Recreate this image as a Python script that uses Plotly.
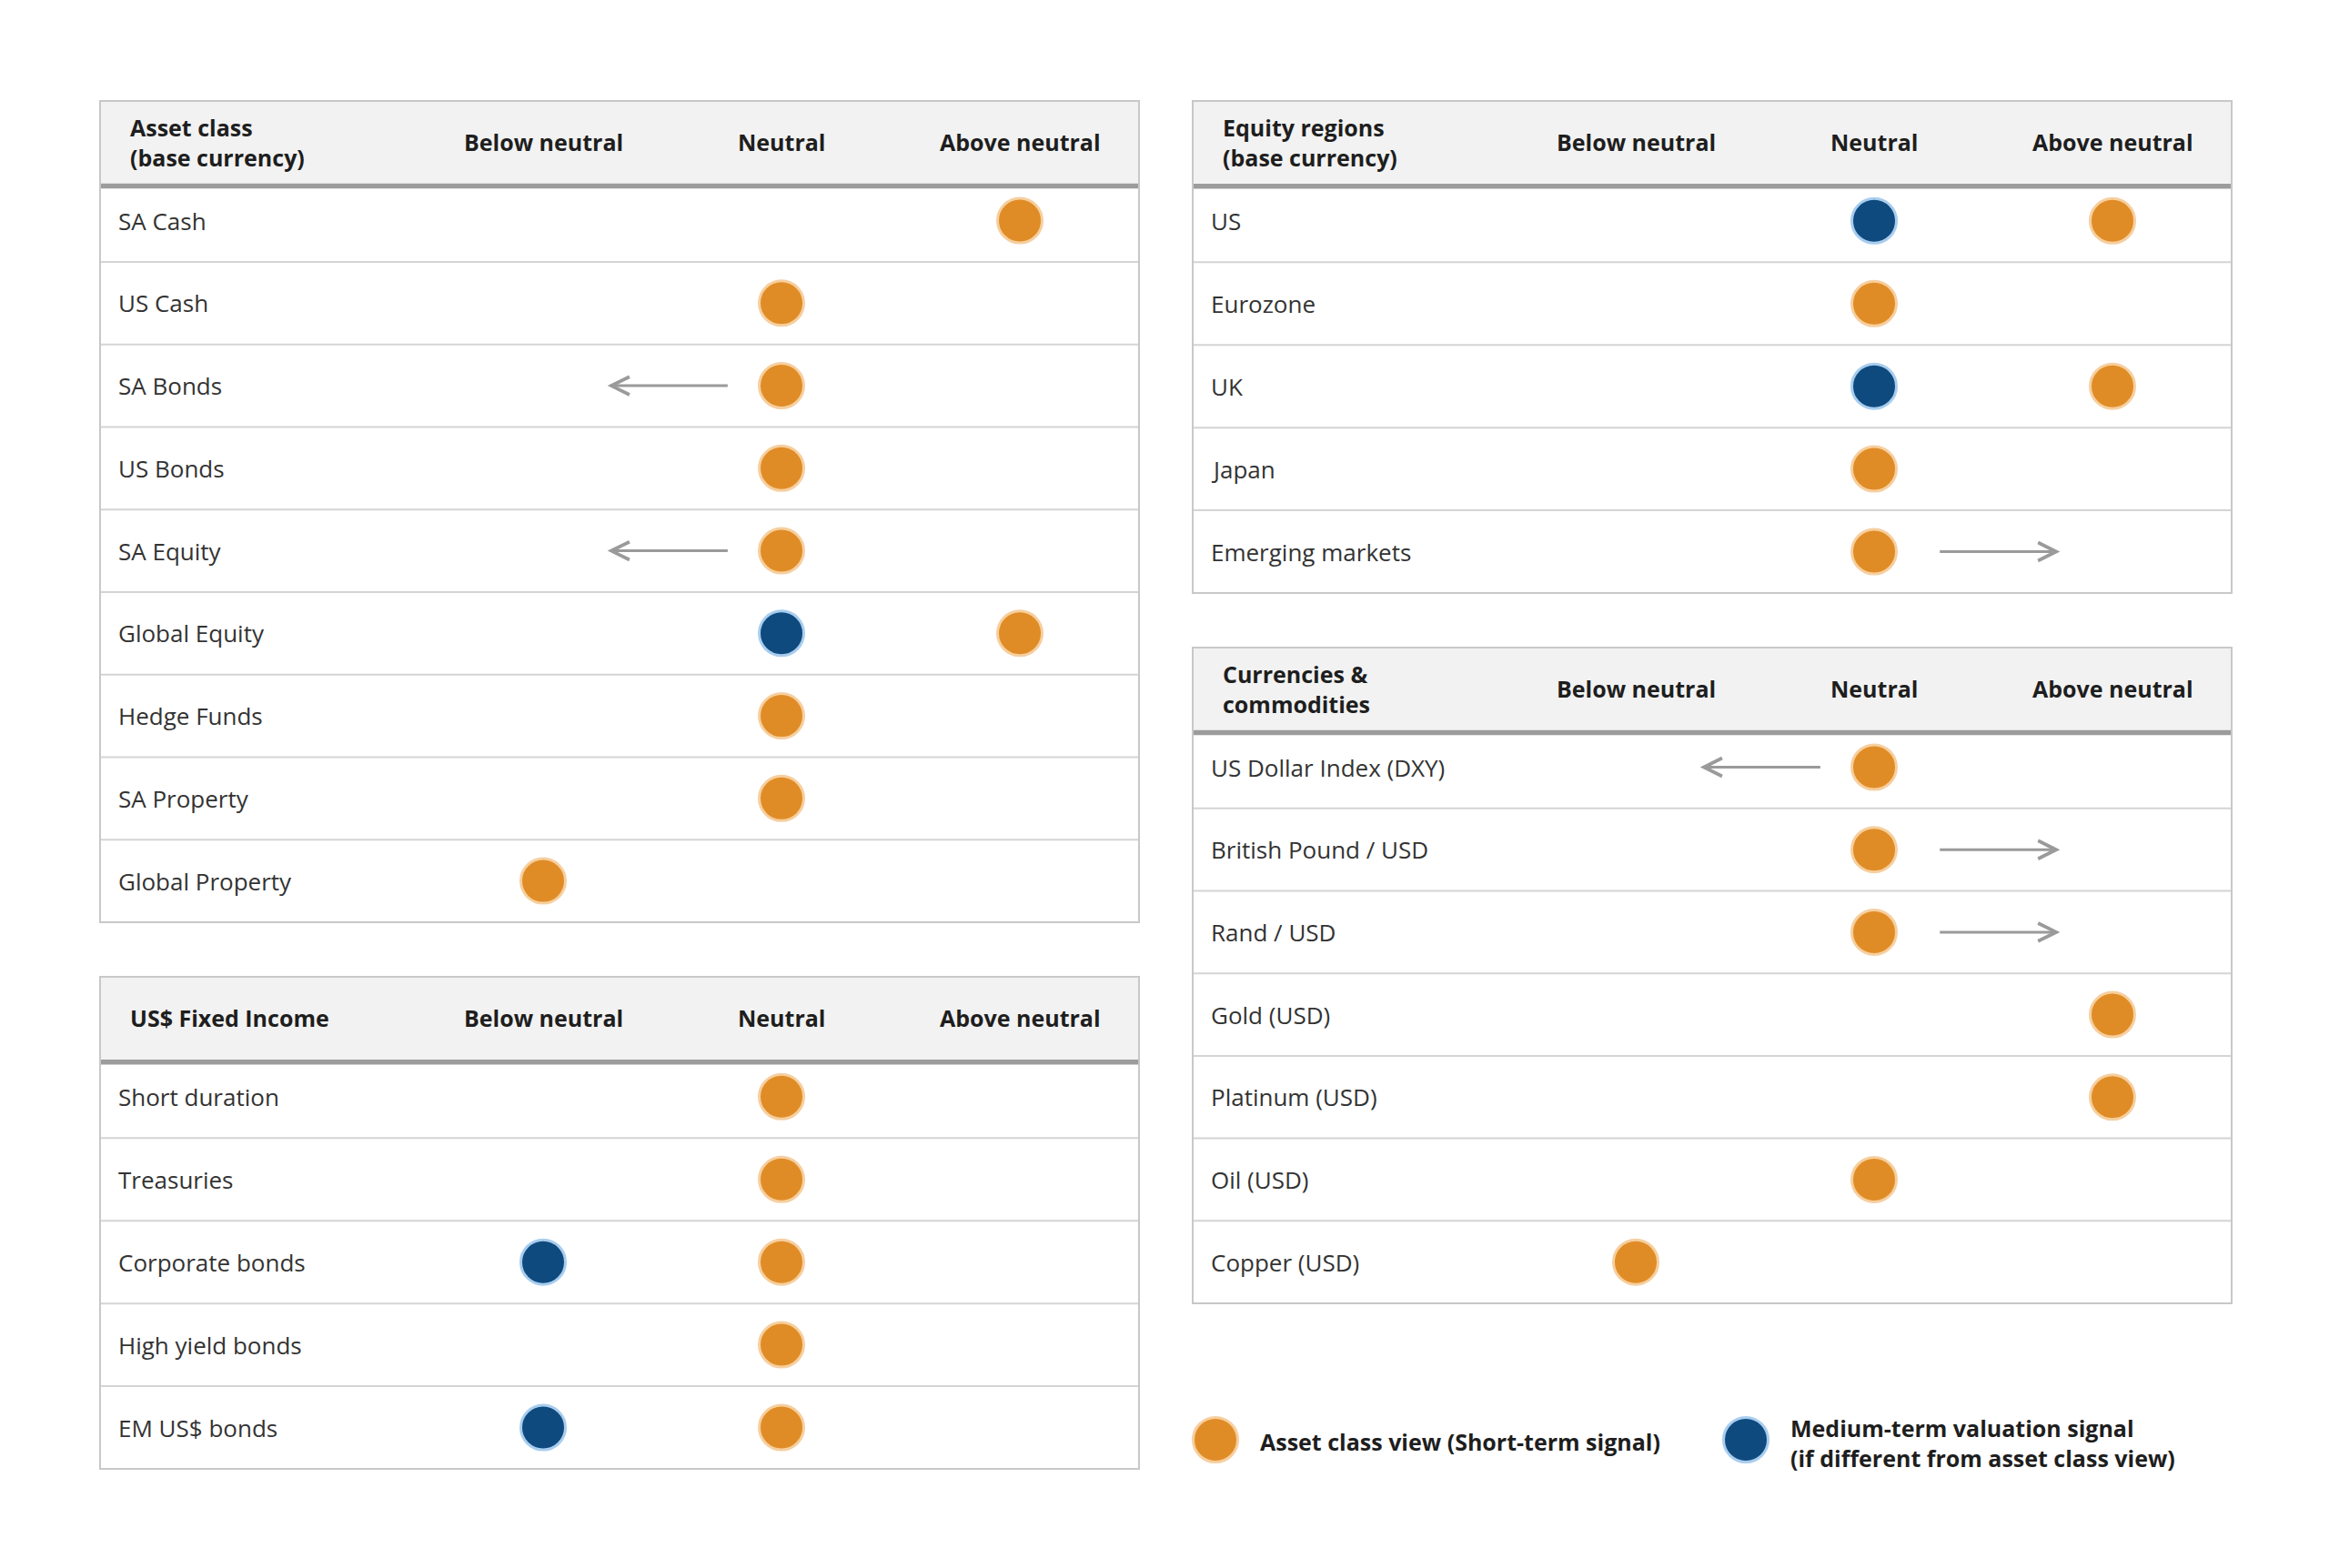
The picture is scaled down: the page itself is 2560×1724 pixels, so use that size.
import plotly.graph_objects as go

FIG_W, FIG_H = 2560, 1724

# ---------------- data ----------------
COLUMNS = ["Below neutral", "Neutral", "Above neutral"]
COLUMN_VALUES = [-1, 0, 1]

asset_title = "Asset class<br>(base currency)"
asset_rows = ["SA Cash", "US Cash", "SA Bonds", "US Bonds", "SA Equity",
              "Global Equity", "Hedge Funds", "SA Property", "Global Property"]
asset_view = [1, 0, 0, 0, 0, 1, 0, 0, -1]
asset_valuation = [None, None, None, None, None, 0, None, None, None]
asset_move = [0, 0, -1, 0, -1, 0, 0, 0, 0]

fi_title = "US$ Fixed Income"
fi_rows = ["Short duration", "Treasuries", "Corporate bonds", "High yield bonds", "EM US$ bonds"]
fi_view = [0, 0, 0, 0, 0]
fi_valuation = [None, None, -1, None, -1]
fi_move = [0, 0, 0, 0, 0]

eq_title = "Equity regions<br>(base currency)"
eq_rows = ["US", "Eurozone", "UK", "Japan", "Emerging markets"]
eq_view = [1, 0, 1, 0, 0]
eq_valuation = [0, None, 0, None, None]
eq_move = [0, 0, 0, 0, 1]

cc_title = "Currencies &<br>commodities"
cc_rows = ["US Dollar Index (DXY)", "British Pound / USD", "Rand / USD", "Gold (USD)",
           "Platinum (USD)", "Oil (USD)", "Copper (USD)"]
cc_view = [0, 0, 0, 1, 1, 0, -1]
cc_valuation = [None, None, None, None, None, None, None]
cc_move = [-1, 1, 1, 0, 0, 0, 0]

legend_labels = ["Asset class view (Short-term signal)",
                 "Medium-term valuation signal<br>(if different from asset class view)"]

# ---------------- styling ----------------
FONT = "Open Sans"
ORANGE, ORANGE_HALO = "#E08C26", "#F6CF9F"
BLUE, BLUE_HALO = "#0F4A7E", "#A8CDEE"
HEADER_BG = "#F2F2F2"
RULE = "#9C9C9C"
GRID = "#D4D4D4"
BORDER = "#C8C8C8"
ARROW = "#9A9A9A"
TXT = "#333333"
HTXT = "#1E1E1E"

HEADER_TOP, HEADER_BOTTOM, RULE_BOTTOM = -1.45, -0.45, -0.39
NEUTRAL_OFFSET, UNIT_PX = 749, 262
ARROW_TAIL = {-1: 0.22, 1: 0.27}
ARROW_HEAD = {-1: 0.73, 1: 0.78}

tables = [
    dict(title=asset_title, rows=asset_rows, view=asset_view, val=asset_valuation,
         move=asset_move, box=(110, 111, 1252, 1014)),
    dict(title=fi_title, rows=fi_rows, view=fi_view, val=fi_valuation,
         move=fi_move, box=(110, 1074, 1252, 1615)),
    dict(title=eq_title, rows=eq_rows, view=eq_view, val=eq_valuation,
         move=eq_move, box=(1311, 111, 2453, 652)),
    dict(title=cc_title, rows=cc_rows, view=cc_view, val=cc_valuation,
         move=cc_move, box=(1311, 712, 2453, 1433)),
]

fig = go.Figure()
shapes, annotations = [], []
layout_axes = {}

for k, t in enumerate(tables, start=1):
    sfx = "" if k == 1 else str(k)
    xa, ya = "x" + sfx, "y" + sfx
    xd, yd = xa + " domain", ya + " domain"
    left, top, right, bottom = t["box"]
    W = right - left
    n = len(t["rows"])
    layout_axes["xaxis" + sfx] = dict(
        domain=[left / FIG_W, right / FIG_W], anchor=ya,
        range=[-NEUTRAL_OFFSET / UNIT_PX, (W - NEUTRAL_OFFSET) / UNIT_PX],
        visible=False, fixedrange=True)
    layout_axes["yaxis" + sfx] = dict(
        domain=[1 - bottom / FIG_H, 1 - top / FIG_H], anchor=xa,
        range=[n - 0.5, HEADER_TOP], visible=False, fixedrange=True)

    # table furniture
    shapes.append(dict(type="rect", xref=xd, yref=ya, x0=0, x1=1, y0=HEADER_TOP, y1=HEADER_BOTTOM,
                       fillcolor=HEADER_BG, line=dict(width=0), layer="below"))
    shapes.append(dict(type="rect", xref=xd, yref=ya, x0=0, x1=1, y0=HEADER_BOTTOM, y1=RULE_BOTTOM,
                       fillcolor=RULE, line=dict(width=0), layer="below"))
    for i in range(n - 1):
        shapes.append(dict(type="line", xref=xd, yref=ya, x0=0, x1=1, y0=i + 0.5, y1=i + 0.5,
                           line=dict(color=GRID, width=2), layer="below"))
    shapes.append(dict(type="rect", xref=xd, yref=yd, x0=0, x1=1, y0=0, y1=1,
                       line=dict(color=BORDER, width=2), layer="below"))

    # header texts
    annotations.append(dict(xref=xd, yref=ya, x=31 / W, y=(HEADER_TOP + HEADER_BOTTOM) / 2,
                            text="<b>" + t["title"] + "</b>", showarrow=False, xanchor="left",
                            yanchor="middle", align="left",
                            font=dict(family=FONT, size=25, color=HTXT)))
    for c, v in zip(COLUMNS, COLUMN_VALUES):
        annotations.append(dict(xref=xa, yref=ya, x=v, y=(HEADER_TOP + HEADER_BOTTOM) / 2,
                                text="<b>" + c + "</b>", showarrow=False, xanchor="center",
                                yanchor="middle", font=dict(family=FONT, size=25, color=HTXT)))
    # row labels
    for i, r in enumerate(t["rows"]):
        annotations.append(dict(xref=xd, yref=ya, x=18 / W, y=i, text=r, showarrow=False,
                                xanchor="left", yanchor="middle",
                                font=dict(family=FONT, size=26, color=TXT)))
    # direction arrows
    for i, (v, m) in enumerate(zip(t["view"], t["move"])):
        if m:
            annotations.append(dict(xref=xa, yref=ya, axref=xa, ayref=ya,
                                    x=v + ARROW_HEAD[m] * m, y=i, ax=v + ARROW_TAIL[m] * m, ay=i,
                                    text="", showarrow=True, arrowhead=5, arrowsize=1.3,
                                    arrowwidth=3, arrowcolor=ARROW, standoff=0, startstandoff=0))

    # signals
    fig.add_trace(go.Scatter(
        x=t["view"], y=list(range(n)), xaxis=xa, yaxis=ya, mode="markers",
        marker=dict(size=49, color=ORANGE, line=dict(color=ORANGE_HALO, width=3)),
        hoverinfo="skip", showlegend=False))
    vx = [v for v in t["val"] if v is not None]
    vy = [i for i, v in enumerate(t["val"]) if v is not None]
    if vx:
        fig.add_trace(go.Scatter(
            x=vx, y=vy, xaxis=xa, yaxis=ya, mode="markers",
            marker=dict(size=49, color=BLUE, line=dict(color=BLUE_HALO, width=3)),
            hoverinfo="skip", showlegend=False))

# ---------------- legend (custom) ----------------
def circle(cx, cy, fill, halo):
    r = 24.5
    return dict(type="circle", xref="paper", yref="paper",
                x0=(cx - r) / FIG_W, x1=(cx + r) / FIG_W,
                y0=1 - (cy + r) / FIG_H, y1=1 - (cy - r) / FIG_H,
                fillcolor=fill, line=dict(color=halo, width=3))

shapes.append(circle(1336, 1583, ORANGE, ORANGE_HALO))
shapes.append(circle(1919, 1583, BLUE, BLUE_HALO))
annotations.append(dict(xref="paper", yref="paper", x=1383 / FIG_W, y=1 - 1585 / FIG_H,
                        text="<b>" + legend_labels[0] + "</b>", showarrow=False,
                        xanchor="left", yanchor="middle", align="left",
                        font=dict(family=FONT, size=25, color=HTXT)))
annotations.append(dict(xref="paper", yref="paper", x=1966 / FIG_W, y=1 - 1586 / FIG_H,
                        text="<b>" + legend_labels[1] + "</b>", showarrow=False,
                        xanchor="left", yanchor="middle", align="left",
                        font=dict(family=FONT, size=25, color=HTXT)))

fig.update_layout(
    width=FIG_W, height=FIG_H, margin=dict(l=0, r=0, t=0, b=0),
    paper_bgcolor="white", plot_bgcolor="white",
    shapes=shapes, annotations=annotations, hovermode=False,
    font=dict(family=FONT),
    **layout_axes)

fig.write_html("out.html", config={"displayModeBar": False},
               post_script="document.body.style.margin='0';document.body.style.overflow='hidden';")
